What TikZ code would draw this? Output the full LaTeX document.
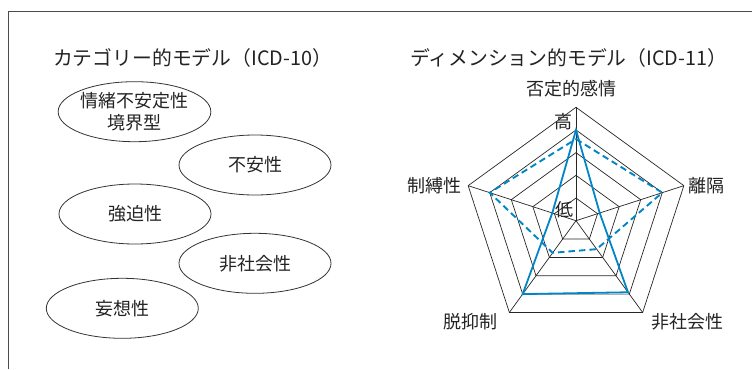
\documentclass[tikz,border=0pt]{standalone}
\usepackage{fontspec}
\setmainfont{Noto Sans CJK JP}
\usetikzlibrary{shapes.geometric,calc}
\definecolor{radarblue}{RGB}{0,133,199}
\definecolor{inkcol}{RGB}{35,35,35}
\begin{document}
\begin{tikzpicture}[x=1bp,y=-1bp,
  txt/.style={font=\fontsize{18bp}{22.7bp}\selectfont, text=inkcol, inner sep=0pt},
  ttl/.style={font=\fontsize{19.8bp}{24bp}\selectfont, text=inkcol, inner sep=0pt, anchor=west},
  cat/.style={ellipse, draw=black!80, line width=0.8bp, minimum width=152bp, minimum height=60bp,
    inner sep=0pt, align=center, font=\fontsize{18bp}{22.7bp}\selectfont, text=inkcol},
  gridline/.style={draw=black!85, line width=0.7bp},
  frameline/.style={draw=black!70, line width=0.9bp},
  solidval/.style={draw=radarblue, line width=1.8bp, line join=miter},
  dashval/.style={draw=radarblue, line width=1.9bp, dash pattern=on 6.5bp off 4bp}]
\useasboundingbox (0,0) rectangle (752,369);
% frame
\coordinate (f1) at (8.3,369);
\coordinate (f2) at (8.3,11);
\coordinate (f3) at (752,11);
\draw[frameline] (f1) -- (f2) -- (f3);
% titles
\node[ttl] (t1) at (53,58.3) {カテゴリー的モデル（ICD-10）};
\node[ttl] (t2) at (410,58.3) {ディメンション的モデル（ICD-11）};
% categorical ellipses
\node[cat] (e1) at (134.5,111.7) {情緒不安定性\\境界型};
\node[cat] (e2) at (255,165) {不安性};
\node[cat] (e3) at (135,214) {強迫性};
\node[cat] (e4) at (255,263.3) {非社会性};
\node[cat] (e5) at (122.3,308.3) {妄想性};
% radar
\coordinate (C) at (576,220.7);
\foreach \k in {1,...,5}{
  \foreach \a [count=\i] in {-90,-18,54,126,198}{
    \coordinate (g\k-\i) at ($(C)+(\a:\k*22.68)$);
  }
}
\foreach \k in {1,...,5}{
  \draw[gridline] (g\k-1) -- (g\k-2) -- (g\k-3) -- (g\k-4) -- (g\k-5) -- cycle;
}
\foreach \i in {1,...,5}{
  \draw[gridline] (C) -- (g5-\i);
}
% value polygons
\foreach \v/\a [count=\i] in {4/-90,1.1/-18,3.9/54,4/126,1.1/198}{
  \coordinate (s\i) at ($(C)+(\a:\v*22.68)$);
}
\foreach \v/\a [count=\i] in {3.6/-90,4/-18,1.55/54,1.75/126,4/198}{
  \coordinate (d\i) at ($(C)+(\a:\v*22.68)$);
}
\draw[dashval] (d1) -- (d2) -- (d3) -- (d4) -- (d5) -- cycle;
\draw[solidval] (s1) -- (s2) -- (s3) -- (s4) -- (s5) -- cycle;
% scale labels
\node[txt] (hi) at (563.3,121.7) {高};
\node[txt] (lo) at (564.8,210) {低};
% axis labels
\node[txt] (a1) at (571,89) {否定的感情};
\node[txt] (a2) at (706,186) {離隔};
\node[txt] (a3) at (687.7,321.7) {非社会性};
\node[txt] (a4) at (470,321.7) {脱抑制};
\node[txt] (a5) at (434,186) {制縛性};
\end{tikzpicture}
\end{document}
